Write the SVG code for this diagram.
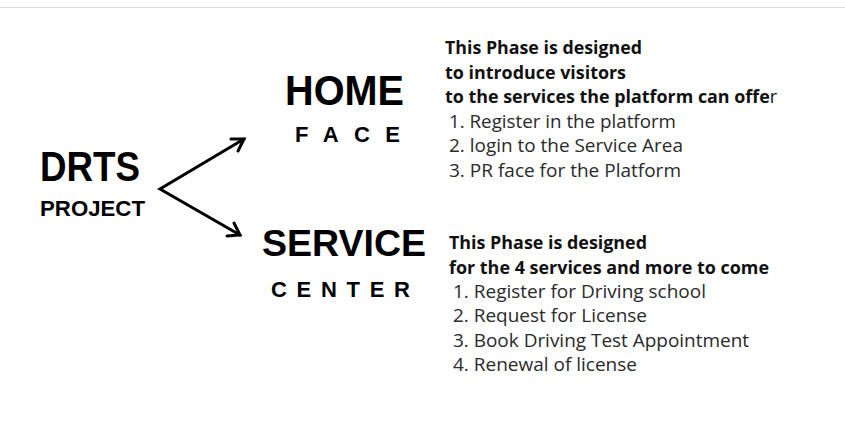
<svg xmlns="http://www.w3.org/2000/svg" width="845" height="427" viewBox="0 0 845 427">
  <style>
    .title { font-family: "Liberation Sans", Arial, sans-serif; font-weight: bold; fill: #000; }
    .spaced { font-family: "Liberation Sans", Arial, sans-serif; font-weight: bold; fill: #000; font-size: 22px; }
    .head { font-family: "Open Sans", "Noto Sans", sans-serif; font-weight: bold; font-size: 17.5px; fill: #111; }
    .item { font-family: "Open Sans", "Noto Sans", sans-serif; font-size: 18px; fill: #2a2a2a; }
    .conn { fill: none; stroke: #000; stroke-width: 3; stroke-linecap: round; stroke-linejoin: miter; }
  </style>
  <rect width="845" height="427" fill="#fff"/>
  <line x1="0" y1="7.5" x2="845" y2="7.5" stroke="#dcdcdc" stroke-width="1"/>

  <g id="drts-project">
    <text class="title" x="40" y="181" font-size="43" textLength="100" lengthAdjust="spacingAndGlyphs">DRTS</text>
    <text class="title" x="40" y="216" font-size="22" textLength="105" lengthAdjust="spacingAndGlyphs">PROJECT</text>
  </g>

  <g id="connectors">
    <polyline class="conn" points="244,139 160,189 240,235"/>
    <polyline class="conn" points="231,139 244,139 238,151"/>
    <polyline class="conn" points="234,223 240,235 227,236"/>
  </g>

  <g id="home-face">
    <text class="title" x="285" y="105" font-size="42" textLength="119" lengthAdjust="spacingAndGlyphs">HOME</text>
    <text class="spaced" x="295" y="142" textLength="105" lengthAdjust="spacing">FACE</text>
  </g>

  <g id="service-center">
    <text class="title" x="262" y="256" font-size="37" textLength="164" lengthAdjust="spacingAndGlyphs">SERVICE</text>
    <text class="spaced" x="271" y="297" textLength="139" lengthAdjust="spacing">CENTER</text>
  </g>

  <g id="home-notes">
    <text class="head" x="445" y="54" textLength="197" lengthAdjust="spacingAndGlyphs">This Phase is designed</text>
    <text class="head" x="445" y="79" textLength="181" lengthAdjust="spacingAndGlyphs">to introduce visitors</text>
    <text class="head" x="445" y="103" textLength="332" lengthAdjust="spacingAndGlyphs">to the services the platform can offe<tspan font-weight="normal">r</tspan></text>
    <text class="item" x="449" y="128" textLength="227" lengthAdjust="spacingAndGlyphs">1. Register in the platform</text>
    <text class="item" x="449" y="152" textLength="234" lengthAdjust="spacingAndGlyphs">2. login to the Service Area</text>
    <text class="item" x="449" y="177" textLength="232" lengthAdjust="spacingAndGlyphs">3. PR face for the Platform</text>
  </g>

  <g id="service-notes">
    <text class="head" x="449" y="249" textLength="198" lengthAdjust="spacingAndGlyphs">This Phase is designed</text>
    <text class="head" x="449" y="274" textLength="320" lengthAdjust="spacingAndGlyphs">for the 4 services and more to come</text>
    <text class="item" x="453" y="298" textLength="253" lengthAdjust="spacingAndGlyphs">1. Register for Driving school</text>
    <text class="item" x="453" y="322" textLength="194" lengthAdjust="spacingAndGlyphs">2. Request for License</text>
    <text class="item" x="453" y="347" textLength="296" lengthAdjust="spacingAndGlyphs">3. Book Driving Test Appointment</text>
    <text class="item" x="453" y="371" textLength="184" lengthAdjust="spacingAndGlyphs">4. Renewal of license</text>
  </g>
</svg>
